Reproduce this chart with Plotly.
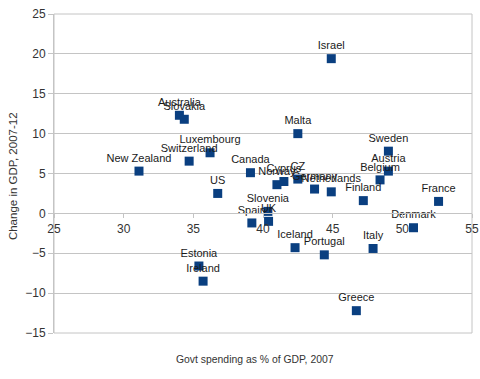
import plotly.graph_objects as go

countries = ["Israel", "Malta", "Sweden", "Austria", "Belgium", "Finland", "France", "Denmark",
             "Australia", "Slovakia", "New Zealand", "Switzerland", "Luxembourg", "US", "Canada",
             "Norway", "Cyprus", "CZ", "Germany", "Netherlands", "Slovenia", "UK", "Spain",
             "Estonia", "Ireland", "Iceland", "Portugal", "Italy", "Greece"]
govt_spending = [44.9, 42.5, 49.0, 49.0, 48.4, 47.2, 52.6, 50.8,
                 34.0, 34.35, 31.1, 34.7, 36.2, 36.75, 39.1,
                 41.0, 41.5, 42.5, 43.7, 44.9, 40.35, 40.4, 39.2,
                 35.4, 35.7, 42.3, 44.4, 47.9, 46.7]
gdp_change = [19.4, 10.0, 7.8, 5.3, 4.2, 1.6, 1.5, -1.8,
              12.3, 11.8, 5.3, 6.55, 7.6, 2.5, 5.1,
              3.6, 4.0, 4.3, 3.05, 2.7, 0.25, -1.0, -1.2,
              -6.6, -8.5, -4.3, -5.2, -4.4, -12.2]

x_ticks = [25, 30, 35, 40, 45, 50, 55]
y_ticks = [-15, -10, -5, 0, 5, 10, 15, 20, 25]

font = "Liberation Sans, Arial, sans-serif"
grid = "#c4c4c4"

fig = go.Figure(go.Scatter(
    x=govt_spending, y=gdp_change, mode="markers+text",
    text=countries, textposition="top center",
    textfont=dict(family=font, size=11, color="#1a1a1a"),
    marker=dict(symbol="square", size=9, color="#0a3f80"),
    cliponaxis=False,
))

fig.update_layout(
    width=480, height=379,
    margin=dict(l=54, r=8, t=14, b=46),
    paper_bgcolor="white", plot_bgcolor="white",
    showlegend=False,
    font=dict(family=font, size=11, color="#333333"),
    xaxis=dict(range=[25, 55], tickvals=x_ticks, showgrid=False, zeroline=False,
               showline=True, linecolor=grid, ticks="outside", ticklen=4, tickcolor=grid,
               anchor="free", position=0.375, automargin=False,
               tickfont=dict(family=font, size=12, color="#333333")),
    yaxis=dict(range=[-15, 25], tickvals=y_ticks, showgrid=True, gridcolor=grid,
               zeroline=False, showline=True, linecolor=grid, ticks="outside",
               ticklen=5, tickcolor=grid, domain=[0, 1], automargin=False,
               tickfont=dict(family=font, size=12, color="#333333")),
    shapes=[dict(type="rect", xref="paper", yref="paper", x0=0, x1=1, y0=0, y1=1,
                 line=dict(color=grid, width=1), fillcolor="rgba(0,0,0,0)", layer="below")],
    annotations=[
        dict(text="Govt spending as % of GDP, 2007", xref="paper", yref="paper",
             x=0.48, y=-0.06, showarrow=False, yanchor="top",
             font=dict(family=font, size=10.4, color="#333333")),
        dict(text="Change in GDP, 2007-12", xref="paper", yref="paper",
             x=-0.098, y=0.492, showarrow=False, textangle=-90, xanchor="center",
             font=dict(family=font, size=11.5, color="#333333")),
    ],
)

fig.write_html("out.html", config={"displayModeBar": False},
               post_script="document.body.style.margin='0px';")
